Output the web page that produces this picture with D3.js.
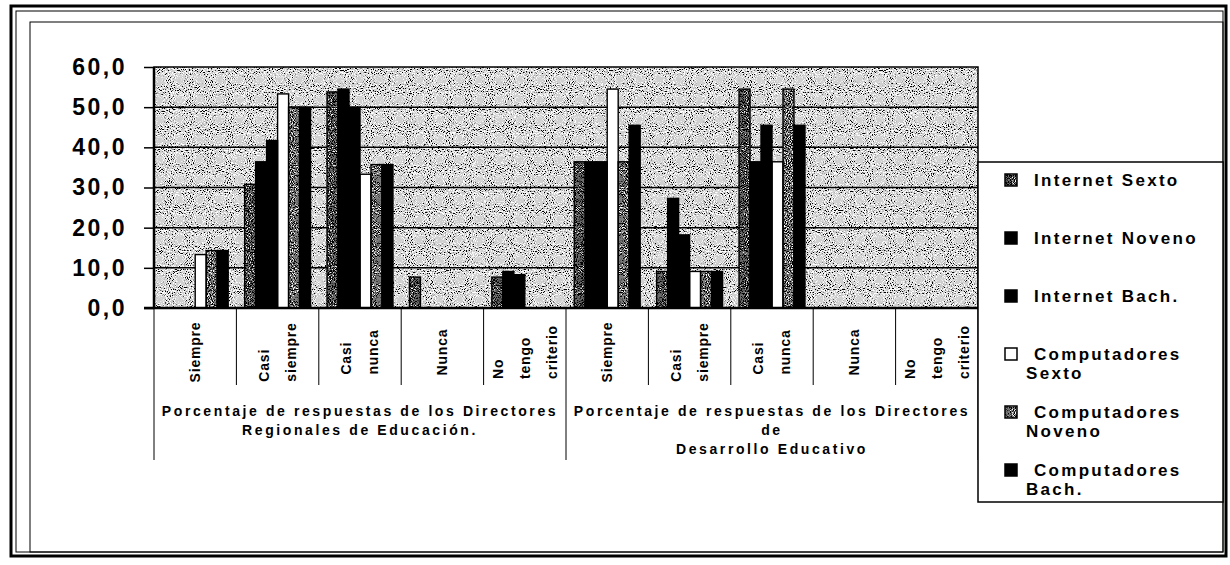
<!DOCTYPE html>
<html>
<head>
<meta charset="utf-8">
<script src="https://cdn.jsdelivr.net/npm/d3@7"></script>
<style>
  body { margin: 0; background: #fff; }
  text { font-family: "Liberation Sans", Arial, sans-serif; font-weight: bold; fill: #000; }
</style>
</head>
<body>
<div id="chart"></div>
<script>
// values (percentages)
var groups = [
    ["Porcentaje de respuestas de los Directores", "Regionales de Educación."],
    ["Porcentaje de respuestas de los Directores", "de", "Desarrollo Educativo"]
];
var categories = ["Siempre", "Casi siempre", "Casi nunca", "Nunca", "No tengo criterio"];
var seriesNames = ["Internet Sexto", "Internet Noveno", "Internet Bach.", "Computadores Sexto", "Computadores Noveno", "Computadores Bach."];

var internetSexto      = [0, 30.8, 53.8, 7.7, 7.7,   36.4, 9.1, 54.5, 0, 0];
var internetNoveno     = [0, 36.4, 54.5, 0, 9.1,     36.4, 27.3, 36.4, 0, 0];
var internetBach       = [0, 41.7, 50.0, 0, 8.3,     36.4, 18.2, 45.5, 0, 0];
var computadoresSexto  = [13.3, 53.3, 33.3, 0, 0,    54.5, 9.1, 36.4, 0, 0];
var computadoresNoveno = [14.3, 50.0, 35.7, 0, 0,    36.4, 9.1, 54.5, 0, 0];
var computadoresBach   = [14.3, 50.0, 35.7, 0, 0,    45.5, 9.1, 45.5, 0, 0];

var yTicks = [0, 10, 20, 30, 40, 50, 60];

function init() {
    var allSeries = [internetSexto, internetNoveno, internetBach, computadoresSexto, computadoresNoveno, computadoresBach];
    // fill style per series: speckled gray, black or white
    var specks = ["spkDark", null, null, null, "spkMid", null];
    var baseFill = ["#6c6c6c", "#000", "#000", "#fff", "#7c7c7c", "#000"];

    var W = 1230, H = 565;
    var left = 154, right = 978, top = 67, bottom = 308;

    var svg = d3.select("#chart").append("svg")
        .attr("width", W).attr("height", H);

    var defs = svg.append("defs");
    // speckle filters (scanned halftone look)
    function speckle(id, darkAmt, lightAmt) {
        var f = defs.append("filter").attr("id", id)
            .attr("x", 0).attr("y", 0).attr("width", "100%").attr("height", "100%");
        f.append("feTurbulence").attr("type", "fractalNoise").attr("baseFrequency", 0.95)
            .attr("numOctaves", 1).attr("seed", 7).attr("result", "n");
        f.append("feColorMatrix").attr("in", "n").attr("type", "matrix")
            .attr("values", "0 0 0 0 0  0 0 0 0 0  0 0 0 0 0  -12 0 0 0 " + darkAmt).attr("result", "blk");
        f.append("feColorMatrix").attr("in", "n").attr("type", "matrix")
            .attr("values", "0 0 0 0 1  0 0 0 0 1  0 0 0 0 1  12 0 0 0 " + lightAmt).attr("result", "wht");
        f.append("feComposite").attr("in", "blk").attr("in2", "SourceGraphic").attr("operator", "in").attr("result", "b2");
        f.append("feComposite").attr("in", "wht").attr("in2", "SourceGraphic").attr("operator", "in").attr("result", "w2");
        var m = f.append("feMerge");
        m.append("feMergeNode").attr("in", "SourceGraphic");
        m.append("feMergeNode").attr("in", "b2");
        m.append("feMergeNode").attr("in", "w2");
    }
    speckle("spkBg", 5.0, -6.2);
    speckle("spkDark", 6.4, -7.4);
    speckle("spkMid", 6.0, -7.0);

    // outer frame
    svg.append("rect").attr("x", 11).attr("y", 6).attr("width", 1215).attr("height", 550)
        .attr("fill", "none").attr("stroke", "#000").attr("stroke-width", 3);
    svg.append("rect").attr("x", 16).attr("y", 11).attr("width", 1207).attr("height", 541)
        .attr("fill", "none").attr("stroke", "#000").attr("stroke-width", 1);
    svg.append("rect").attr("x", 30).attr("y", 22).attr("width", 1193).attr("height", 530)
        .attr("fill", "none").attr("stroke", "#000").attr("stroke-width", 1);

    var y = d3.scaleLinear().domain([0, 60]).range([bottom, top]);
    var x0 = d3.scaleBand().domain(d3.range(groups.length * categories.length)).range([left, right]);
    var x1 = d3.scaleBand().domain(d3.range(seriesNames.length)).range([0, x0.bandwidth()])
        .paddingOuter(0.75).paddingInner(0);

    // plot background
    svg.append("rect").attr("x", left).attr("y", top)
        .attr("width", right - left).attr("height", bottom - top)
        .attr("fill", "#d0d0d0").attr("filter", "url(#spkBg)");

    // gridlines
    svg.append("g").selectAll("line").data(yTicks.slice(1, -1)).join("line")
        .attr("x1", left).attr("x2", right)
        .attr("y1", d => y(d)).attr("y2", d => y(d))
        .attr("stroke", "#000").attr("stroke-width", 1.5);

    // bars
    var barData = [];
    allSeries.forEach(function(vals, s) {
        vals.forEach(function(v, i) {
            if (v > 0) barData.push({s: s, i: i, v: v});
        });
    });
    var bars = svg.append("g");
    bars.selectAll("rect.fill").data(barData).join("rect")
        .attr("class", "fill")
        .attr("x", d => x0(d.i) + x1(d.s))
        .attr("y", d => y(d.v))
        .attr("width", x1.bandwidth())
        .attr("height", d => y(0) - y(d.v))
        .attr("fill", d => baseFill[d.s])
        .attr("filter", d => specks[d.s] ? "url(#" + specks[d.s] + ")" : null);
    bars.selectAll("rect.edge").data(barData).join("rect")
        .attr("class", "edge")
        .attr("x", d => x0(d.i) + x1(d.s))
        .attr("y", d => y(d.v))
        .attr("width", x1.bandwidth())
        .attr("height", d => y(0) - y(d.v))
        .attr("fill", "none").attr("stroke", "#000").attr("stroke-width", 1.4);

    // plot border
    svg.append("rect").attr("x", left).attr("y", top)
        .attr("width", right - left).attr("height", bottom - top)
        .attr("fill", "none").attr("stroke", "#000").attr("stroke-width", 1.5);
    svg.append("line").attr("x1", left).attr("x2", left).attr("y1", top).attr("y2", bottom)
        .attr("stroke", "#000").attr("stroke-width", 2.5);
    svg.append("line").attr("x1", left - 10).attr("x2", right).attr("y1", bottom).attr("y2", bottom)
        .attr("stroke", "#000").attr("stroke-width", 2.5);

    // y axis
    var yAxis = svg.append("g")
        .attr("transform", "translate(" + left + ",0)")
        .call(d3.axisLeft(y).tickValues(yTicks).tickSize(10).tickPadding(17)
            .tickFormat(d => d3.format(".1f")(d).replace(".", ",")));
    yAxis.select(".domain").remove();
    yAxis.selectAll(".tick line").attr("stroke", "#000").attr("stroke-width", 1.5);
    yAxis.selectAll(".tick text")
        .style("font-size", "23px").style("letter-spacing", "2.5px")
        .style("font-family", "'Liberation Sans', Arial, sans-serif").style("font-weight", "bold");

    // category separators
    var seps = d3.range(groups.length * categories.length + 1);
    svg.append("g").selectAll("line").data(seps).join("line")
        .attr("x1", d => d < x0.domain().length ? x0(d) : right)
        .attr("x2", d => d < x0.domain().length ? x0(d) : right)
        .attr("y1", bottom)
        .attr("y2", d => d % categories.length === 0 ? 460 : 385)
        .attr("stroke", "#000").attr("stroke-width", 1);

    // category labels (rotated, one column per word)
    var catG = svg.append("g");
    x0.domain().forEach(function(i) {
        var words = categories[i % categories.length].split(" ");
        var cx = x0(i) + x0.bandwidth() / 2;
        var gap = 27;
        var g = catG.append("g");
        var texts = g.selectAll("text").data(words).join("text")
            .attr("transform", (w, k) => "translate(" + (cx + (k - (words.length - 1) / 2) * gap) + ",0) rotate(-90)")
            .attr("dy", "0.35em")
            .style("font-size", "14px").style("letter-spacing", "0.8px")
            .text(w => w);
        var maxLen = d3.max(texts.nodes(), n => n.getComputedTextLength());
        texts.attr("x", -(352 + maxLen / 2)).attr("text-anchor", "start");
    });

    // group labels
    groups.forEach(function(lines, gi) {
        var gx = (x0(gi * categories.length) + (gi === groups.length - 1 ? right : x0((gi + 1) * categories.length))) / 2;
        svg.append("g").selectAll("text").data(lines).join("text")
            .attr("x", gx).attr("y", (l, k) => 416 + k * 19)
            .attr("text-anchor", "middle")
            .style("font-size", "14px").style("letter-spacing", "2.6px")
            .text(l => l);
    });

    // legend
    svg.append("rect").attr("x", right).attr("y", 162).attr("width", 1223 - right).attr("height", 340)
        .attr("fill", "#fff").attr("stroke", "#000").attr("stroke-width", 1.5);
    var legend = svg.append("g").selectAll("g").data(seriesNames).join("g")
        .attr("transform", (d, i) => "translate(1005," + (180 + i * 58) + ")");
    legend.append("rect")
        .attr("x", 0).attr("y", -6).attr("width", 12).attr("height", 12)
        .attr("fill", (d, i) => baseFill[i])
        .attr("filter", (d, i) => specks[i] ? "url(#" + specks[i] + ")" : null);
    legend.append("rect")
        .attr("x", 0).attr("y", -6).attr("width", 12).attr("height", 12)
        .attr("fill", "none").attr("stroke", "#000").attr("stroke-width", 1.5);
    legend.each(function(name) {
        var parts = name.indexOf("Computadores") === 0 ? ["Computadores", name.slice(13)] : [name];
        d3.select(this).selectAll("text").data(parts).join("text")
            .attr("x", (p, k) => k === 0 ? 29 : 21)
            .attr("y", (p, k) => k * 19)
            .attr("dy", "0.35em")
            .style("font-size", "17px").style("letter-spacing", "2.3px")
            .text(p => p);
    });
}

window.onload = init;
</script>
</body>
</html>
